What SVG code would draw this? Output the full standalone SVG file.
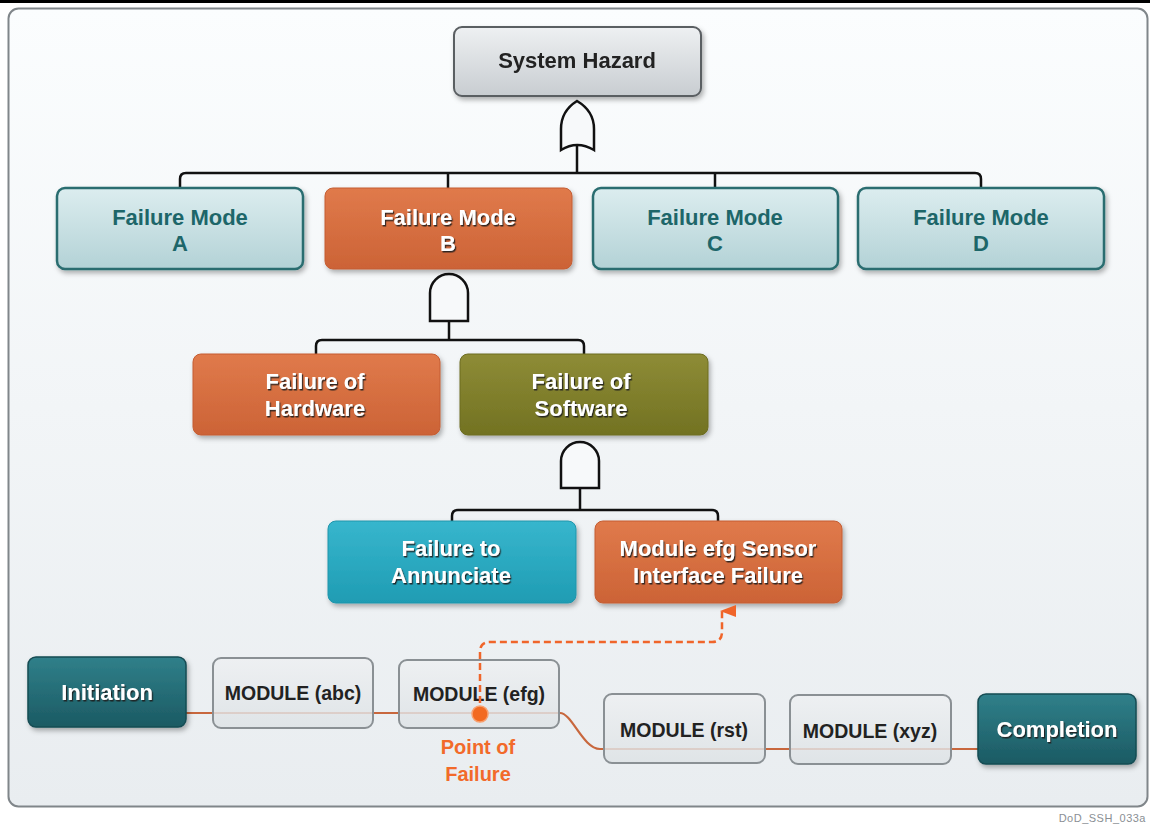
<svg xmlns="http://www.w3.org/2000/svg" width="1150" height="826" viewBox="0 0 1150 826">
<defs>
<linearGradient id="gPanel" x1="0" y1="0" x2="0" y2="1"><stop offset="0" stop-color="#fbfdfe"/><stop offset="1" stop-color="#e9edf0"/></linearGradient>
<linearGradient id="gGray" x1="0" y1="0" x2="0" y2="1"><stop offset="0" stop-color="#eef0f2"/><stop offset="1" stop-color="#c8cdd1"/></linearGradient>
<linearGradient id="gTealL" x1="0" y1="0" x2="0" y2="1"><stop offset="0" stop-color="#dcedef"/><stop offset="1" stop-color="#b3d2d6"/></linearGradient>
<linearGradient id="gOrange" x1="0" y1="0" x2="0" y2="1"><stop offset="0" stop-color="#e07a4b"/><stop offset="1" stop-color="#cc6336"/></linearGradient>
<linearGradient id="gOlive" x1="0" y1="0" x2="0" y2="1"><stop offset="0" stop-color="#8e8c36"/><stop offset="1" stop-color="#727222"/></linearGradient>
<linearGradient id="gCyan" x1="0" y1="0" x2="0" y2="1"><stop offset="0" stop-color="#37b6cd"/><stop offset="1" stop-color="#1f9cb3"/></linearGradient>
<linearGradient id="gTealD" x1="0" y1="0" x2="0" y2="1"><stop offset="0" stop-color="#30808a"/><stop offset="1" stop-color="#1b5a63"/></linearGradient>
<linearGradient id="gMod" x1="0" y1="0" x2="0" y2="1"><stop offset="0" stop-color="#eef0f2"/><stop offset="1" stop-color="#dde2e5"/></linearGradient>
<filter id="shadow" x="-10%" y="-20%" width="125%" height="150%"><feDropShadow dx="2" dy="3" stdDeviation="2.5" flood-color="#000" flood-opacity="0.3"/></filter>
<filter id="tshadow" x="-10%" y="-30%" width="120%" height="160%"><feDropShadow dx="1.2" dy="1.5" stdDeviation="0.6" flood-color="#1a1a1a" flood-opacity="0.9"/></filter>
<marker id="arrow" markerUnits="userSpaceOnUse" markerWidth="14" markerHeight="16" refX="7" refY="2" orient="auto-start-reverse" viewBox="0 0 14 16">
<path d="M7,0 L13,16 L1,16 Z" fill="#f0652a"/>
</marker>
<style>
.t{font-family:"Liberation Sans",Arial,sans-serif;font-weight:bold;text-anchor:middle}
.big{font-size:22px}
.mod{font-size:19.5px;fill:#222}
.w{fill:#ffffff;filter:url(#tshadow)}
.tl{fill:#1d6669}
.wire{fill:none;stroke:#111;stroke-width:2.5}
.gate{fill:#f7f9fa;stroke:#111;stroke-width:2.5}
.boxG{fill:url(#gGray);stroke:#5a5e62;stroke-width:2}
.boxTL{fill:url(#gTealL);stroke:#2a6d70;stroke-width:2.5}
.boxO{fill:url(#gOrange);stroke:#c45d33;stroke-width:1}
.boxOl{fill:url(#gOlive);stroke:#6c6c20;stroke-width:1}
.boxC{fill:url(#gCyan);stroke:#1f95ab;stroke-width:1}
.boxTD{fill:url(#gTealD);stroke:#164c53;stroke-width:1.5}
.boxM{fill:url(#gMod);fill-opacity:0.82;stroke:#8a9094;stroke-width:2}
</style>
</defs>

<rect x="0" y="0" width="1150" height="826" fill="#ffffff"/>
<line x1="0" y1="1.5" x2="1150" y2="1.5" stroke="#000" stroke-width="3"/>
<rect x="8.5" y="8.5" width="1139" height="798" rx="10" fill="url(#gPanel)" stroke="#80868a" stroke-width="2"/>
<text x="1146" y="822" font-family="Liberation Sans,Arial,sans-serif" font-size="11" letter-spacing="0.5" text-anchor="end" fill="#8a8f94">DoD_SSH_033a</text>

<g id="connectors">
<line class="wire" x1="577" y1="146" x2="577" y2="173"/>
<path class="wire" d="M180,188 L180,179 Q180,173 186,173 L975,173 Q981,173 981,179 L981,188"/>
<line class="wire" x1="448" y1="173" x2="448" y2="188"/>
<line class="wire" x1="715" y1="173" x2="715" y2="188"/>
<line class="wire" x1="449" y1="321" x2="449" y2="340"/>
<path class="wire" d="M316,354 L316,346 Q316,340 322,340 L578,340 Q584,340 584,346 L584,354"/>
<line class="wire" x1="580" y1="488" x2="580" y2="510"/>
<path class="wire" d="M452,521 L452,516 Q452,510 458,510 L712,510 Q718,510 718,516 L718,521"/>
<path d="M186,713 L560,713 C572,713 583,749 600,749 L978,749" fill="none" stroke="#c8673d" stroke-width="2.2"/>
</g>

<g id="gates">
<path class="gate" d="M561,150 L561,129 Q561,111 577,101 Q594,111 594,129 L594,150 Q577,140 561,150 Z"/>
<path class="gate" d="M430,321 L430,293 A19,19 0 0 1 468,293 L468,321 Z"/>
<path class="gate" d="M561,488 L561,461 A19,19 0 0 1 599,461 L599,488 Z"/>
</g>

<g id="system-hazard" filter="url(#shadow)">
<rect class="boxG" x="454" y="27" width="247" height="69" rx="8"/>
<text class="t big" x="577" y="68" fill="#222">System Hazard</text>
</g>

<g id="failure-mode-a">
<rect class="boxTL" x="57" y="188" width="246" height="81" rx="8" filter="url(#shadow)"/>
<text class="t big tl" x="180" y="225">Failure Mode</text>
<text class="t big tl" x="180" y="251">A</text>
</g>
<g id="failure-mode-b">
<rect class="boxO" x="325" y="188" width="247" height="81" rx="8" filter="url(#shadow)"/>
<text class="t big w" x="448" y="225">Failure Mode</text>
<text class="t big w" x="448" y="251">B</text>
</g>
<g id="failure-mode-c">
<rect class="boxTL" x="593" y="188" width="245" height="81" rx="8" filter="url(#shadow)"/>
<text class="t big tl" x="715" y="225">Failure Mode</text>
<text class="t big tl" x="715" y="251">C</text>
</g>
<g id="failure-mode-d">
<rect class="boxTL" x="858" y="188" width="246" height="81" rx="8" filter="url(#shadow)"/>
<text class="t big tl" x="981" y="225">Failure Mode</text>
<text class="t big tl" x="981" y="251">D</text>
</g>

<g id="failure-of-hardware">
<rect class="boxO" x="193" y="354" width="247" height="81" rx="8" filter="url(#shadow)"/>
<text class="t big w" x="315" y="389">Failure of</text>
<text class="t big w" x="315" y="416">Hardware</text>
</g>
<g id="failure-of-software">
<rect class="boxOl" x="460" y="354" width="248" height="81" rx="8" filter="url(#shadow)"/>
<text class="t big w" x="581" y="389">Failure of</text>
<text class="t big w" x="581" y="416">Software</text>
</g>

<g id="failure-to-annunciate">
<rect class="boxC" x="328" y="521" width="248" height="82" rx="8" filter="url(#shadow)"/>
<text class="t big w" x="451" y="556">Failure to</text>
<text class="t big w" x="451" y="583">Annunciate</text>
</g>
<g id="sensor-interface-failure">
<rect class="boxO" x="595" y="521" width="247" height="82" rx="8" filter="url(#shadow)"/>
<text class="t big w" x="718" y="556">Module efg Sensor</text>
<text class="t big w" x="718" y="583">Interface Failure</text>
</g>

<g id="initiation">
<rect class="boxTD" x="28" y="657" width="158" height="70" rx="8" filter="url(#shadow)"/>
<text class="t big w" x="107" y="700">Initiation</text>
</g>
<g id="module-abc">
<rect class="boxM" x="213" y="658" width="160" height="70" rx="8"/>
<text class="t mod" x="293" y="700">MODULE (abc)</text>
</g>
<g id="module-efg">
<rect class="boxM" x="399" y="660" width="160" height="68" rx="8"/>
<text class="t mod" x="479" y="701">MODULE (efg)</text>
</g>
<g id="module-rst">
<rect class="boxM" x="604" y="694" width="161" height="69" rx="8"/>
<text class="t mod" x="684" y="737">MODULE (rst)</text>
</g>
<g id="module-xyz">
<rect class="boxM" x="790" y="695" width="161" height="69" rx="8"/>
<text class="t mod" x="870" y="738">MODULE (xyz)</text>
</g>
<g id="completion">
<rect class="boxTD" x="978" y="694" width="158" height="70" rx="8" filter="url(#shadow)"/>
<text class="t big w" x="1057" y="737">Completion</text>
</g>

<g id="point-of-failure">
<path d="M480,714 L480,652 Q480,642 490,642 L712,642 Q722,642 722,632 L722,611" fill="none" stroke="#f0652a" stroke-width="2.5" stroke-dasharray="7,4" marker-end="url(#arrow)"/>
<circle cx="480" cy="714" r="8" fill="#f26a21" stroke="#f7a070" stroke-width="1.5"/>
<text class="t" x="478" y="754" font-size="20" fill="#f26a2a">Point of</text>
<text class="t" x="478" y="781" font-size="20" fill="#f26a2a">Failure</text>
</g>
</svg>
